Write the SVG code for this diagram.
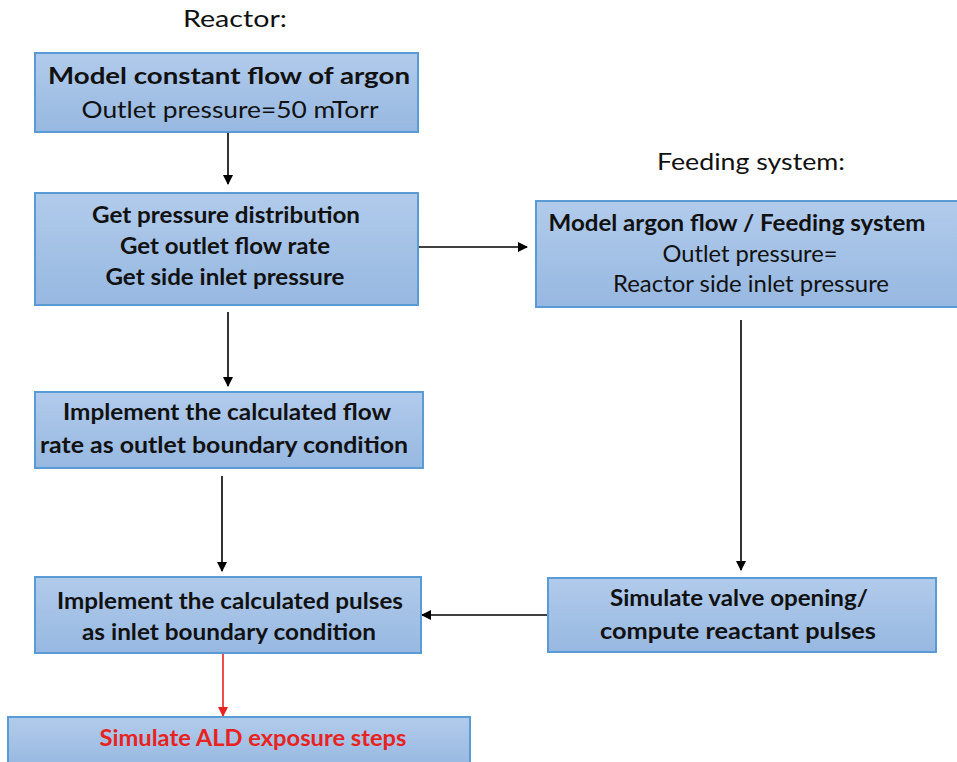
<svg xmlns="http://www.w3.org/2000/svg" width="957" height="762" viewBox="0 0 957 762">
<defs>
<linearGradient id="g" x1="0" y1="0" x2="0" y2="1">
<stop offset="0" stop-color="#b1cbeb"/>
<stop offset="1" stop-color="#97b8e1"/>
</linearGradient>
<marker id="ah" viewBox="0 0 10 10" refX="9" refY="5" markerWidth="10" markerHeight="10" markerUnits="userSpaceOnUse" orient="auto">
<path d="M0,0 L10,5 L0,10 Z" fill="#000"/>
</marker>
<marker id="ahr" viewBox="0 0 10 10" refX="9" refY="5" markerWidth="10" markerHeight="10" markerUnits="userSpaceOnUse" orient="auto">
<path d="M0,0 L10,5 L0,10 Z" fill="#e8231f"/>
</marker>
</defs>
<style>
.box{fill:url(#g);stroke:#5b9bd5;stroke-width:2}
text{font-family:Lato,"Liberation Sans",sans-serif;font-size:23px;fill:#111;text-anchor:middle}
.b{font-weight:bold}
.red{fill:#e8231f}
.c{stroke:#000;stroke-width:1.6;fill:none}
.cr{stroke:#e8231f;stroke-width:1.6;fill:none}
</style>
<rect width="957" height="762" fill="#fff"/>
<text x="235" y="27" textLength="104" lengthAdjust="spacingAndGlyphs">Reactor:</text>
<text x="751" y="170" textLength="188" lengthAdjust="spacingAndGlyphs">Feeding system:</text>

<g id="connectors">
<line class="c" x1="228" y1="133" x2="228" y2="184" marker-end="url(#ah)"/>
<line class="c" x1="419" y1="247" x2="527" y2="247" marker-end="url(#ah)"/>
<line class="c" x1="228" y1="312" x2="228" y2="386" marker-end="url(#ah)"/>
<line class="c" x1="741" y1="320" x2="741" y2="570" marker-end="url(#ah)"/>
<line class="c" x1="222" y1="476" x2="222" y2="571" marker-end="url(#ah)"/>
<line class="c" x1="548" y1="615" x2="422" y2="615" marker-end="url(#ah)"/>
<line class="cr" x1="223" y1="654" x2="223" y2="716" marker-end="url(#ahr)"/>
</g>

<g id="n1">
<rect class="box" x="35" y="53" width="383" height="79"/>
<text class="b" x="229" y="84" textLength="362" lengthAdjust="spacingAndGlyphs">Model constant flow of argon</text>
<text x="230" y="118" textLength="297" lengthAdjust="spacingAndGlyphs">Outlet pressure=50 mTorr</text>
</g>
<g id="n2">
<rect class="box" x="35" y="193" width="383" height="112"/>
<text class="b" x="226" y="223" textLength="268" lengthAdjust="spacingAndGlyphs">Get pressure distribution</text>
<text class="b" x="225" y="254" textLength="210" lengthAdjust="spacingAndGlyphs">Get outlet flow rate</text>
<text class="b" x="225" y="285" textLength="239" lengthAdjust="spacingAndGlyphs">Get side inlet pressure</text>
</g>
<g id="n3">
<rect class="box" x="536" y="201" width="430" height="106"/>
<text class="b" x="737" y="231" textLength="377" lengthAdjust="spacingAndGlyphs">Model argon flow / Feeding system</text>
<text x="750" y="262" textLength="175" lengthAdjust="spacingAndGlyphs">Outlet pressure=</text>
<text x="751" y="292" textLength="276" lengthAdjust="spacingAndGlyphs">Reactor side inlet pressure</text>
</g>
<g id="n4">
<rect class="box" x="35" y="392" width="388" height="76"/>
<text class="b" x="227" y="420" textLength="328" lengthAdjust="spacingAndGlyphs">Implement the calculated flow</text>
<text class="b" x="224" y="453" textLength="368" lengthAdjust="spacingAndGlyphs">rate as outlet boundary condition</text>
</g>
<g id="n5">
<rect class="box" x="35" y="577" width="386" height="76"/>
<text class="b" x="230" y="609" textLength="346" lengthAdjust="spacingAndGlyphs">Implement the calculated pulses</text>
<text class="b" x="229" y="640" textLength="294" lengthAdjust="spacingAndGlyphs">as inlet boundary condition</text>
</g>
<g id="n6">
<rect class="box" x="548" y="578" width="388" height="74"/>
<text class="b" x="739" y="606" textLength="258" lengthAdjust="spacingAndGlyphs">Simulate valve opening/</text>
<text class="b" x="738" y="639" textLength="276" lengthAdjust="spacingAndGlyphs">compute reactant pulses</text>
</g>
<g id="n7">
<rect class="box" x="8" y="717" width="462" height="52"/>
<text class="b red" x="253" y="746" textLength="307" lengthAdjust="spacingAndGlyphs">Simulate ALD exposure steps</text>
</g>
</svg>
